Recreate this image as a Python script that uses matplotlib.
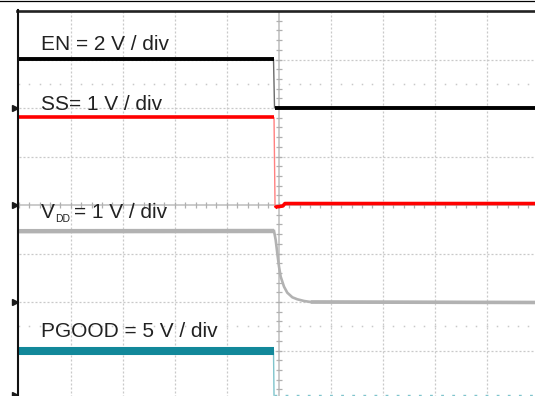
import matplotlib
matplotlib.use("Agg")
import matplotlib.pyplot as plt
from matplotlib.lines import Line2D

# ---- data (time in divisions, amplitude in divisions) ----
en_t = [0.0, 4.90, 4.92, 10.0]
en_v = [7.01, 7.01, 5.99, 5.99]

ss_t = [0.0, 4.91, 4.93, 4.95, 5.08, 5.12, 10.0]
ss_v = [5.81, 5.81, 3.94, 3.96, 3.98, 4.03, 4.03]

vdd_t = [0.0, 4.910, 4.942, 4.973, 5.006, 5.038, 5.102, 5.165, 5.262, 5.358, 5.487, 5.615, 10.0]
vdd_v = [3.46, 3.464, 3.278, 3.004, 2.729, 2.522, 2.316, 2.192, 2.097, 2.056, 2.021, 2.000, 1.99]

pg_t = [0.0, 4.90, 4.91, 10.0]
pg_v = [1.00, 1.00, 0.08, 0.08]

labels = ["EN = 2 V / div", "SS= 1 V / div", "= 1 V / div", "PGOOD = 5 V / div"]
ground_marks = [6.0, 4.0, 2.0, 0.08]

W, H = 535, 396
FONT = "Liberation Sans"

fig = plt.figure(figsize=(W / 100, H / 100), dpi=100)
fig.patch.set_facecolor("white")

# axes: 10 x 8 divisions, left edge at 18.7 px, top at 11 px, 52 px/div x, 48.5 px/div y
ax = fig.add_axes([18.7 / W, (H - 399) / H, 520 / W, 388 / H])
ax.set_xlim(0, 10)
ax.set_ylim(0, 8)
ax.axis("off")

gc = "#c9c9c9"
for i in range(1, 10):
    if i != 5:
        ax.axvline(i, color=gc, lw=0.9, ls=(0, (1.6, 1.6)), zorder=1)
for j in range(1, 8):
    if j != 4:
        ax.axhline(j, color=gc, lw=0.9, ls=(0, (1.6, 1.6)), zorder=1)

# center axes with minor ticks
ax.axvline(5, color="#bdbdbd", lw=1.1, zorder=1)
ax.axhline(4, color="#bdbdbd", lw=1.1, zorder=1)
ticks_v = [k * 0.2 for k in range(0, 41)]
ticks_t = [k * 0.2 for k in range(0, 51)]
ax.plot([5] * len(ticks_v), ticks_v, ls="none", marker="_", ms=4, mew=0.9, color="#b0b0b0", zorder=1)
ax.plot(ticks_t, [4] * len(ticks_t), ls="none", marker="|", ms=4, mew=0.9, color="#b0b0b0", zorder=1)
# half-division dot rows
for row in (6.5, 1.5):
    ax.plot(ticks_t, [row] * len(ticks_t), ls="none", marker="s", ms=1.1, mew=0, color="#c9c9c9", zorder=1)


def trace(t, v, k, color, lw_main, lw_edge, edge_color):
    ax.plot(t[k:k + 2], v[k:k + 2], color=edge_color, lw=lw_edge, zorder=3, solid_capstyle="butt")
    ax.plot(t[:k + 1], v[:k + 1], color=color, lw=lw_main, zorder=4, solid_capstyle="butt")
    ax.plot(t[k + 1:], v[k + 1:], color=color, lw=lw_main, zorder=4, solid_capstyle="butt")


trace(en_t, en_v, 1, "#000000", 2.8, 1.0, "#6a6a6a")
trace(ss_t, ss_v, 1, "#ff0000", 2.6, 1.0, "#ff8080")
# VDD: plateau thick, decay medium
ax.plot(vdd_t[1:], vdd_v[1:], color="#b2b2b2", lw=1.9, zorder=4)
ax.plot(vdd_t[:2], vdd_v[:2], color="#b2b2b2", lw=3.2, zorder=4, solid_capstyle="butt")
ax.plot(vdd_t[-2:], vdd_v[-2:], color="#b2b2b2", lw=2.6, zorder=4, solid_capstyle="butt")
# PGOOD
ax.plot(pg_t[:2], pg_v[:2], color="#12889a", lw=5.8, zorder=4, solid_capstyle="butt")
ax.plot(pg_t[1:3], pg_v[1:3], color="#7fc4cc", lw=1.0, zorder=3)
ax.plot(pg_t[2:], pg_v[2:], color="#7fc4cc", lw=1.0, ls=(0, (2, 6)), zorder=3)

# ground markers
ax.plot([-0.08] * len(ground_marks), ground_marks, ls="none", marker=">", ms=4.5,
        color="#1a1a1a", clip_on=False, zorder=6)

# frame
fig.add_artist(Line2D([0, 1], [1 - 0.6 / H, 1 - 0.6 / H], color="black", lw=0.9))
fig.add_artist(Line2D([17 / W, 1], [1 - 11 / H, 1 - 11 / H], color="#222222", lw=1.9))
fig.add_artist(Line2D([18 / W, 18 / W], [0, 1 - 10 / H], color="#111111", lw=1.5))

# labels
tc = "#222222"
fig.text(41.0 / W, 1 - 50 / H, labels[0], fontsize=15, family=FONT, color=tc, va="baseline", ha="left", zorder=10)
fig.text(41.0 / W, 1 - 110 / H, labels[1], fontsize=15, family=FONT, color=tc, va="baseline", ha="left", zorder=10)
fig.text(41.0 / W, 1 - 218 / H, "V", fontsize=15, family=FONT, color=tc, va="baseline", ha="left", zorder=10)
fig.text(55.0 / W, 1 - 221.5 / H, "DD", fontsize=7.5, family=FONT, color=tc, va="baseline", ha="left", zorder=10)
fig.text(73.5 / W, 1 - 218 / H, labels[2], fontsize=15, family=FONT, color=tc, va="baseline", ha="left", zorder=10)
fig.text(41.0 / W, 1 - 337 / H, labels[3], fontsize=15, family=FONT, color=tc, va="baseline", ha="left", zorder=10)

fig.savefig("out.png", dpi=100)
